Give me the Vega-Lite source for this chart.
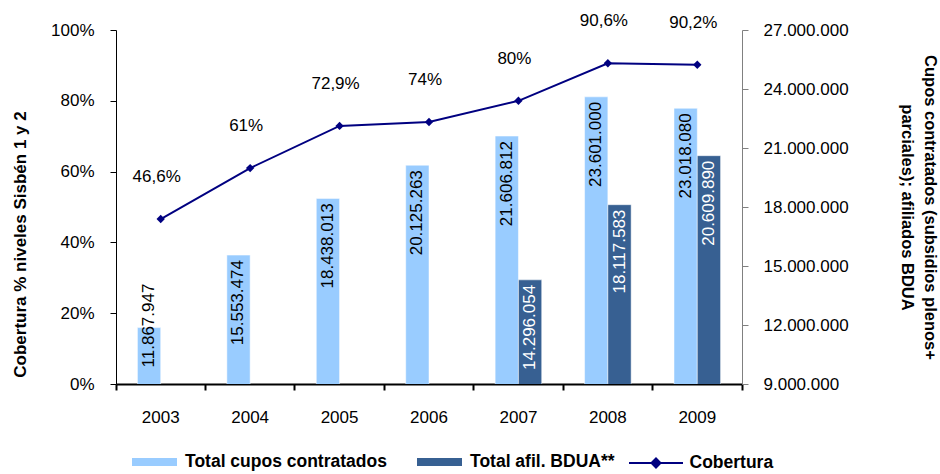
{
  "$schema": "https://vega.github.io/schema/vega-lite/v6.json",
  "width": 626,
  "height": 354,
  "autosize": {"type": "none"},
  "padding": {"left": 116, "top": 30, "right": 198, "bottom": 90},
  "background": "white",
  "datasets": {
    "bars": [
      {"year": "2003", "series": "Total cupos contratados", "value": 11867947},
      {"year": "2004", "series": "Total cupos contratados", "value": 15553474},
      {"year": "2005", "series": "Total cupos contratados", "value": 18438013},
      {"year": "2006", "series": "Total cupos contratados", "value": 20125263},
      {"year": "2007", "series": "Total cupos contratados", "value": 21606812},
      {"year": "2008", "series": "Total cupos contratados", "value": 23601000},
      {"year": "2009", "series": "Total cupos contratados", "value": 23018080},
      {"year": "2007", "series": "Total afil. BDUA**", "value": 14296054},
      {"year": "2008", "series": "Total afil. BDUA**", "value": 18117583},
      {"year": "2009", "series": "Total afil. BDUA**", "value": 20609890}
    ],
    "cov": [
      {"year": "2003", "cobertura": 0.466},
      {"year": "2004", "cobertura": 0.61},
      {"year": "2005", "cobertura": 0.729},
      {"year": "2006", "cobertura": 0.74},
      {"year": "2007", "cobertura": 0.80},
      {"year": "2008", "cobertura": 0.906},
      {"year": "2009", "cobertura": 0.902}
    ]
  },
  "config": {
    "locale": {"number": {"decimal": ",", "thousands": ".", "grouping": [3], "currency": ["", ""]}},
    "font": "Liberation Sans",
    "view": {"stroke": null},
    "axis": {"grid": false, "labelFont": "Liberation Sans", "titleFont": "Liberation Sans", "labelColor": "black", "titleColor": "black"},
    "legend": {"labelFont": "Liberation Sans"}
  },
  "encoding": {
    "x": {
      "field": "year",
      "type": "nominal",
      "scale": {"type": "band", "paddingInner": 0, "paddingOuter": 0},
      "axis": {
        "title": null,
        "labelAngle": 0,
        "labelFontSize": 17,
        "labelPadding": 19,
        "domainColor": "black",
        "domainWidth": 2,
        "tickColor": "black",
        "tickWidth": 2,
        "tickSize": 6,
        "bandPosition": 1,
        "tickExtra": true
      }
    }
  },
  "layer": [
    {
      "data": {"name": "bars"},
      "encoding": {
        "xOffset": {
          "field": "series",
          "type": "nominal",
          "scale": {"domain": ["Total cupos contratados", "Total afil. BDUA**"], "paddingInner": 0, "paddingOuter": 0.92}
        },
        "y": {
          "field": "value",
          "type": "quantitative",
          "scale": {"domain": [9000000, 27000000], "nice": false, "zero": false},
          "axis": {
            "orient": "right",
            "values": [9000000, 12000000, 15000000, 18000000, 21000000, 24000000, 27000000],
            "format": ",.0f",
            "labelFontSize": 17,
            "labelPadding": 15,
            "tickSize": 6,
            "tickColor": "#808080",
            "domainColor": "#808080",
            "title": ["Cupos contratados (subsidios plenos+", "parciales); afiliados  BDUA"],
            "titleFontSize": 16.5,
            "titleFontWeight": "bold",
            "titleLineHeight": 23,
            "titlePadding": 50
          }
        }
      },
      "layer": [
        {
          "mark": {"type": "bar", "clip": true, "stroke": "white", "strokeWidth": 0.5},
          "encoding": {
            "color": {
              "field": "series",
              "type": "nominal",
              "scale": {
                "domain": ["Total cupos contratados", "Total afil. BDUA**"],
                "range": ["#99CCFF", "#376092"]
              },
              "legend": {
                "title": null,
                "orient": "none",
                "direction": "horizontal",
                "legendX": 16,
                "legendY": 409.5,
                "padding": 0,
                "labelFontSize": 17.5,
                "labelFontWeight": "bold",
                "labelColor": "black",
                "labelLimit": 0,
                "labelOffset": 8,
                "columnPadding": 30,
                "symbolSize": 2025,
                "symbolType": "M-1,-0.18H1V0.18H-1Z",
                "symbolStrokeWidth": 0,
                "symbolOpacity": 1
              }
            }
          }
        },
        {
          "mark": {
            "type": "text",
            "angle": 270,
            "align": "right",
            "baseline": "middle",
            "fontSize": 17,
            "dx": {"expr": "datum.value < 13000000 ? 44 : -5"}
          },
          "encoding": {
            "text": {"field": "value", "type": "quantitative", "format": ",.0f"},
            "color": {
              "condition": {"test": "datum.series === 'Total afil. BDUA**'", "value": "white"},
              "value": "black"
            }
          }
        }
      ]
    },
    {
      "data": {"name": "cov"},
      "encoding": {
        "y": {
          "field": "cobertura",
          "type": "quantitative",
          "scale": {"domain": [0, 1], "nice": false},
          "axis": {
            "orient": "left",
            "values": [0, 0.2, 0.4, 0.6, 0.8, 1],
            "format": ".0%",
            "labelFontSize": 17,
            "labelPadding": 16,
            "tickSize": 6,
            "tickColor": "black",
            "domainColor": "black",
            "title": "Cobertura % niveles Sisbén 1 y 2",
            "titleFontSize": 17,
            "titleFontWeight": "bold",
            "titlePadding": 21,
            "titleY": 214
          }
        }
      },
      "layer": [
        {
          "mark": {"type": "line", "strokeWidth": 2},
          "encoding": {
            "stroke": {
              "datum": "Cobertura",
              "type": "nominal",
              "scale": {"domain": ["Cobertura"], "range": ["#000080"]},
              "legend": {
                "title": null,
                "orient": "none",
                "direction": "horizontal",
                "legendX": 516.5,
                "legendY": 409.5,
                "padding": 0,
                "labelFontSize": 17.5,
                "labelFontWeight": "bold",
                "labelColor": "black",
                "labelLimit": 0,
                "labelOffset": 10,
                "symbolSize": 2025,
                "symbolType": "M-1.2,0H1.2M-0.2,0L0,-0.2L0.2,0L0,0.2Z",
                "symbolStrokeWidth": 2,
                "symbolStrokeColor": "#000080",
                "symbolFillColor": "#000080",
                "symbolOpacity": 1
              }
            }
          }
        },
        {
          "mark": {"type": "point", "shape": "diamond", "filled": true, "size": 70, "opacity": 1, "color": "#000080"},
          "encoding": {}
        },
        {
          "mark": {"type": "text", "fontSize": 17, "dy": -42, "dx": -4, "color": "black"},
          "encoding": {
            "text": {"field": "cobertura", "type": "quantitative", "format": ".3~%"}
          }
        }
      ]
    }
  ],
  "resolve": {"scale": {"y": "independent"}}
}
